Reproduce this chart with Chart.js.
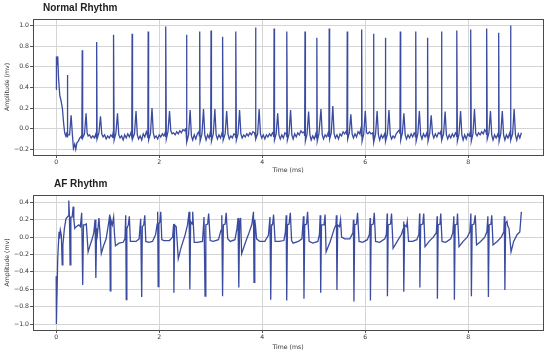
<!DOCTYPE html>
<html lang="en">
<head>
    <meta charset="UTF-8">
    <title>Normal vs AF Rhythm</title>
    <script src="https://cdn.jsdelivr.net/npm/chart.js@4.4.1/dist/chart.umd.min.js"></script>
    <style>
        body { margin: 0; background: #fff; width: 550px; height: 355px; position: relative; overflow: hidden; }
        .panel { position: absolute; left: 0; width: 550px; }
        .title { position: absolute; z-index: 2; font: bold 10px/10px "Liberation Sans", Arial, sans-serif; color: #222; white-space: nowrap; }
    </style>
</head>
<body>

    <div class="panel" style="top:0;height:178px"><canvas id="normalChart" width="550" height="178"></canvas></div>
    <div class="panel" style="top:178px;height:177px"><canvas id="afChart" width="550" height="177"></canvas></div>
    <div class="title" style="left:43px;top:3px">Normal Rhythm</div>
    <div class="title" style="left:54px;top:179px">AF Rhythm</div>

    <script>

        // values, [time, amplitude]
        const normalRhythm = [
            [0.000,0.38],[0.005,0.70],[0.020,0.62],[0.030,0.70],[0.045,0.50],[0.070,0.32],[0.090,0.28],[0.120,0.20],[0.145,0.05],[0.165,-0.04],[0.185,-0.07],[0.200,-0.05],
            [0.210,-0.08],[0.217,0.52],[0.225,-0.06],[0.260,-0.06],[0.290,0.13],[0.315,-0.06],[0.335,-0.19],[0.360,-0.15],[0.380,-0.20],[0.400,-0.14],[0.430,-0.12],[0.460,-0.09],[0.490,-0.07],
            [0.498,-0.10],[0.506,0.76],[0.514,-0.09],[0.550,-0.05],[0.580,0.15],[0.600,-0.04],[0.620,-0.07],[0.650,-0.06],[0.680,-0.09],[0.710,-0.07],[0.740,-0.09],[0.770,-0.05],
            [0.779,-0.09],[0.786,0.84],[0.794,-0.10],[0.830,-0.04],[0.860,0.12],[0.885,-0.05],[0.910,-0.08],[0.940,-0.06],[0.970,-0.10],[1.000,-0.07],[1.030,-0.09],[1.060,-0.06],[1.090,-0.08],[1.105,-0.04],
            [1.110,-0.09],[1.117,0.91],[1.125,-0.11],[1.160,-0.04],[1.190,0.15],[1.215,-0.06],[1.240,-0.09],[1.270,-0.07],[1.300,-0.11],[1.330,-0.06],[1.360,-0.09],[1.390,-0.05],[1.420,-0.08],[1.450,-0.04],
            [1.467,-0.08],[1.474,0.92],[1.482,-0.10],[1.520,-0.05],[1.550,0.17],[1.575,-0.06],[1.600,-0.10],[1.630,-0.07],[1.660,-0.11],[1.690,-0.05],[1.720,-0.08],[1.750,-0.03],[1.770,-0.06],
            [1.779,-0.09],[1.786,0.94],[1.794,-0.11],[1.830,-0.05],[1.860,0.20],[1.885,-0.04],[1.910,-0.09],[1.940,-0.07],[1.970,-0.10],[2.000,-0.06],[2.030,-0.08],[2.060,-0.05],[2.090,-0.07],[2.115,-0.04],
            [2.123,-0.08],[2.130,0.99],[2.138,-0.10],[2.170,-0.03],[2.200,0.17],[2.225,-0.02],[2.250,-0.05],[2.280,-0.04],[2.310,-0.06],[2.340,-0.03],[2.370,-0.05],[2.400,-0.02],[2.430,-0.04],[2.460,-0.01],[2.490,-0.02],[2.515,0.00],
            [2.523,-0.05],[2.530,0.91],[2.538,-0.13],[2.570,-0.06],[2.600,0.18],[2.625,-0.07],[2.650,-0.11],[2.680,-0.06],[2.710,-0.10],[2.740,-0.05],[2.770,-0.03],
            [2.779,-0.07],[2.786,0.94],[2.794,-0.12],[2.830,-0.05],[2.860,0.19],[2.885,-0.06],[2.910,-0.11],[2.940,-0.06],[2.970,-0.09],[2.990,-0.04],
            [2.999,-0.08],[3.006,0.95],[3.014,-0.12],[3.050,-0.05],[3.080,0.19],[3.105,-0.06],[3.130,-0.10],[3.160,-0.06],[3.190,-0.09],[3.220,-0.04],
            [3.227,-0.08],[3.234,0.89],[3.242,-0.11],[3.280,-0.05],[3.310,0.17],[3.335,-0.05],[3.360,-0.10],[3.390,-0.07],[3.420,-0.09],[3.450,-0.05],[3.475,-0.06],
            [3.483,-0.09],[3.490,0.94],[3.498,-0.11],[3.530,-0.05],[3.560,0.18],[3.585,-0.05],[3.610,-0.09],[3.640,-0.06],[3.670,-0.08],[3.700,-0.05],[3.730,-0.07],[3.760,-0.04],[3.790,-0.06],[3.820,-0.03],[3.850,-0.04],
            [3.863,-0.07],[3.870,0.98],[3.878,-0.10],[3.910,-0.05],[3.940,0.19],[3.965,-0.05],[3.990,-0.09],[4.020,-0.06],[4.050,-0.10],[4.080,-0.06],[4.110,-0.08],[4.140,-0.05],[4.170,-0.07],[4.200,-0.04],[4.215,-0.05],
            [4.223,-0.08],[4.230,0.97],[4.238,-0.11],[4.270,-0.05],[4.300,0.15],[4.325,-0.06],[4.350,-0.10],[4.380,-0.06],[4.410,-0.09],[4.440,-0.04],[4.465,-0.05],
            [4.473,-0.08],[4.480,0.94],[4.488,-0.11],[4.520,-0.05],[4.550,0.18],[4.575,-0.06],[4.600,-0.10],[4.630,-0.05],[4.660,-0.08],[4.690,-0.04],[4.720,-0.06],[4.750,-0.02],[4.780,-0.04],[4.815,-0.03],
            [4.823,-0.07],[4.830,0.94],[4.838,-0.12],[4.870,-0.05],[4.900,0.165],[4.925,-0.06],[4.950,-0.11],[4.980,-0.07],[5.010,-0.10],[5.040,-0.05],
            [5.053,-0.09],[5.060,0.88],[5.068,-0.12],[5.100,-0.05],[5.140,0.19],[5.165,-0.06],[5.190,-0.10],[5.220,-0.06],[5.250,-0.08],[5.280,-0.04],
            [5.293,-0.08],[5.300,0.97],[5.308,-0.10],[5.340,-0.04],[5.370,0.22],[5.395,-0.05],[5.420,-0.09],[5.450,-0.06],[5.480,-0.10],[5.510,-0.05],[5.540,-0.07],[5.570,-0.03],[5.600,-0.05],[5.635,-0.02],
            [5.643,-0.06],[5.650,0.94],[5.658,-0.10],[5.690,-0.04],[5.720,0.14],[5.745,-0.05],[5.770,-0.09],[5.800,-0.05],[5.830,-0.08],[5.860,-0.03],[5.890,-0.05],[5.915,0.00],
            [5.923,-0.07],[5.930,0.96],[5.938,-0.12],[5.970,-0.05],[6.000,0.17],[6.025,-0.04],[6.050,-0.05],[6.080,-0.03],[6.110,-0.05],[6.145,-0.04],
            [6.153,-0.08],[6.160,0.92],[6.168,-0.13],[6.200,-0.05],[6.230,0.17],[6.255,-0.06],[6.280,-0.11],[6.310,-0.06],[6.340,-0.09],[6.375,-0.05],
            [6.383,-0.08],[6.390,0.88],[6.398,-0.12],[6.430,-0.05],[6.460,0.18],[6.485,-0.06],[6.510,-0.10],[6.540,-0.07],[6.570,-0.09],[6.600,-0.05],[6.630,-0.03],[6.665,-0.01],
            [6.673,-0.05],[6.680,0.94],[6.688,-0.11],[6.720,-0.04],[6.750,0.15],[6.775,-0.06],[6.800,-0.10],[6.830,-0.06],[6.860,-0.09],[6.890,-0.05],[6.920,-0.08],[6.950,-0.04],[6.965,-0.05],
            [6.973,-0.08],[6.980,0.94],[6.988,-0.12],[7.020,-0.05],[7.050,0.17],[7.075,-0.06],[7.100,-0.10],[7.130,-0.05],[7.160,-0.08],[7.195,-0.04],
            [7.203,-0.08],[7.210,0.88],[7.218,-0.12],[7.250,-0.05],[7.280,0.13],[7.305,-0.05],[7.330,-0.09],[7.360,-0.05],[7.390,-0.08],[7.420,-0.04],[7.450,-0.05],[7.465,-0.03],
            [7.473,-0.07],[7.480,0.94],[7.488,-0.11],[7.520,-0.05],[7.550,0.165],[7.575,-0.06],[7.600,-0.10],[7.630,-0.06],[7.660,-0.09],[7.690,-0.05],[7.720,-0.08],[7.750,-0.04],[7.765,-0.05],
            [7.773,-0.08],[7.780,0.95],[7.788,-0.12],[7.820,-0.05],[7.850,0.17],[7.875,-0.06],[7.900,-0.11],[7.930,-0.06],[7.960,-0.10],[7.990,-0.05],[8.020,-0.07],[8.035,-0.04],
            [8.043,-0.08],[8.050,0.96],[8.058,-0.12],[8.090,-0.05],[8.120,0.19],[8.145,-0.05],[8.170,-0.07],[8.200,-0.04],[8.230,-0.06],[8.260,-0.03],[8.290,-0.05],[8.320,-0.01],[8.345,-0.03],
            [8.353,-0.06],[8.360,0.97],[8.368,-0.10],[8.400,-0.04],[8.430,0.17],[8.455,-0.06],[8.480,-0.11],[8.510,-0.06],[8.540,-0.09],[8.575,-0.05],
            [8.583,-0.08],[8.590,0.93],[8.598,-0.12],[8.630,-0.05],[8.660,0.17],[8.685,-0.06],[8.710,-0.11],[8.740,-0.06],[8.770,-0.09],[8.805,-0.04],
            [8.813,-0.07],[8.820,1.00],[8.828,-0.11],[8.860,-0.05],[8.890,0.19],[8.915,-0.06],[8.940,-0.11],[8.970,-0.05],[9.000,-0.09],[9.030,-0.04]
        ];

        const afRhythm = [
            [0.000,-0.45],[0.004,-1.00],[0.030,-0.25],[0.055,0.06],[0.065,-0.02],[0.080,0.08],[0.100,0.02],[0.117,-0.32],[0.130,-0.09],[0.160,0.10],[0.190,0.21],[0.230,0.24],[0.245,0.42],[0.258,0.23],[0.270,-0.32],[0.285,0.23],[0.310,0.23],[0.330,0.35],[0.342,0.21],[0.360,0.10],[0.390,0.12],[0.440,0.14],[0.470,0.12],[0.495,0.28],
            [0.515,-0.55],[0.530,0.14],[0.560,0.14],[0.585,0.15],[0.620,-0.17],[0.650,-0.11],[0.700,-0.02],[0.730,0.05],[0.755,0.20],
            [0.770,-0.47],[0.785,0.10],[0.800,0.03],[0.830,0.22],[0.850,0.05],[0.876,-0.19],[0.920,-0.10],[0.970,-0.02],[1.020,0.17],[1.040,0.26],
            [1.050,-0.62],[1.062,0.20],[1.090,0.14],[1.115,0.23],[1.130,0.05],[1.150,-0.10],[1.220,-0.07],[1.300,-0.06],[1.335,-0.02],[1.350,0.25],
            [1.360,-0.72],[1.372,0.10],[1.400,0.14],[1.420,0.24],[1.440,-0.05],[1.470,-0.05],[1.550,-0.05],[1.610,-0.02],[1.640,0.21],
            [1.660,-0.69],[1.672,0.12],[1.700,0.14],[1.720,0.25],[1.740,-0.05],[1.800,-0.06],[1.870,-0.05],[1.930,0.03],[1.960,0.15],[1.970,0.29],
            [1.980,-0.57],[1.992,0.15],[2.010,0.17],[2.030,0.29],[2.050,-0.03],[2.090,-0.04],[2.200,-0.04],[2.260,0.00],[2.280,0.15],
            [2.285,-0.64],[2.300,0.14],[2.330,0.12],[2.370,-0.25],[2.420,-0.13],[2.500,0.02],[2.550,0.14],[2.580,0.29],
            [2.595,-0.60],[2.610,0.18],[2.640,0.15],[2.650,0.29],[2.680,-0.06],[2.740,-0.06],[2.840,-0.05],[2.870,0.23],
            [2.890,-0.68],[2.905,0.14],[2.940,0.15],[2.960,0.27],[2.990,-0.04],[3.050,-0.05],[3.150,-0.03],[3.200,0.08],[3.215,0.25],
            [3.230,-0.68],[3.245,0.14],[3.280,0.15],[3.300,0.28],[3.330,-0.02],[3.380,-0.05],[3.470,-0.03],[3.510,0.10],[3.530,0.22],
            [3.545,-0.58],[3.560,0.14],[3.580,0.22],[3.600,-0.19],[3.680,-0.05],[3.750,0.06],[3.800,0.15],[3.830,0.29],
            [3.840,-0.52],[3.855,0.20],[3.870,0.12],[3.890,-0.02],[3.950,-0.05],[4.050,-0.05],[4.120,0.02],[4.150,0.23],
            [4.165,-0.72],[4.180,0.14],[4.200,0.14],[4.220,0.26],[4.250,-0.05],[4.330,-0.05],[4.420,-0.04],[4.450,0.06],[4.465,0.25],
            [4.475,-0.73],[4.490,0.14],[4.520,0.15],[4.545,0.28],[4.570,-0.04],[4.600,-0.07],[4.700,-0.05],[4.770,-0.02],[4.800,0.24],
            [4.810,-0.71],[4.825,0.14],[4.860,0.15],[4.880,0.29],[4.910,-0.05],[4.980,-0.07],[5.080,-0.05],[5.110,0.03],[5.125,0.25],
            [5.135,-0.64],[5.150,0.14],[5.200,0.14],[5.220,0.26],[5.240,-0.17],[5.320,-0.05],[5.400,0.10],[5.430,0.14],[5.440,0.25],
            [5.450,-0.61],[5.465,0.14],[5.500,0.12],[5.520,0.20],[5.540,0.00],[5.600,-0.02],[5.700,-0.02],[5.760,0.05],[5.770,0.20],
            [5.780,-0.74],[5.795,0.14],[5.830,0.15],[5.850,0.28],[5.880,-0.05],[5.950,-0.06],[6.040,-0.03],[6.080,0.03],[6.095,0.22],
            [6.100,-0.73],[6.115,0.14],[6.155,0.15],[6.175,0.28],[6.200,-0.05],[6.280,-0.06],[6.380,-0.02],[6.410,0.03],[6.425,0.27],
            [6.430,-0.68],[6.445,0.14],[6.490,0.15],[6.510,0.27],[6.540,-0.13],[6.620,-0.05],[6.700,0.03],[6.740,0.10],[6.745,0.18],
            [6.750,-0.63],[6.765,0.14],[6.800,0.12],[6.815,0.18],[6.840,-0.05],[6.920,-0.05],[7.000,-0.03],[7.040,0.03],[7.055,0.27],
            [7.060,-0.58],[7.075,0.14],[7.115,0.15],[7.135,0.27],[7.160,-0.11],[7.240,-0.05],[7.320,0.00],[7.380,0.05],[7.395,0.24],
            [7.400,-0.71],[7.415,0.14],[7.450,0.15],[7.465,0.27],[7.490,-0.05],[7.560,-0.06],[7.660,-0.02],[7.700,0.05],[7.720,0.24],
            [7.730,-0.72],[7.745,0.14],[7.780,0.15],[7.790,0.27],[7.820,-0.11],[7.900,-0.05],[7.980,0.00],[8.030,0.06],[8.050,0.27],
            [8.060,-0.68],[8.075,0.14],[8.110,0.15],[8.135,0.25],[8.160,-0.09],[8.240,-0.05],[8.320,0.00],[8.360,0.06],[8.380,0.24],
            [8.390,-0.69],[8.405,0.14],[8.440,0.15],[8.455,0.25],[8.480,-0.09],[8.560,-0.05],[8.640,0.00],[8.690,0.06],[8.700,0.24],
            [8.710,-0.61],[8.725,0.16],[8.750,0.18],[8.765,0.13],[8.790,0.10],[8.830,-0.17],[8.880,-0.05],[8.950,0.03],[9.000,0.06],[9.030,0.29]
        ];

        const timeTicks = [0, 2, 4, 6, 8];
        const normalAmpTicks = [-0.2, 0, 0.2, 0.4, 0.6, 0.8, 1.0];
        const afAmpTicks = [-1.0, -0.8, -0.6, -0.4, -0.2, 0, 0.2, 0.4];

        const smallFont = { family: 'DejaVu Sans', size: 6.2 };
        const lineColor = '#3a4ba0';

        // dark box around the plot area, like matplotlib spines
        const frame = {
            id: 'frame',
            afterDatasetsDraw(chart) {
                const a = chart.chartArea, c = chart.ctx;
                c.save();
                c.strokeStyle = '#4a4a4a';
                c.lineWidth = 1;
                c.strokeRect(Math.round(a.left) + 0.5, Math.round(a.top) + 0.5,
                    Math.round(a.right - a.left), Math.round(a.bottom - a.top));
                c.restore();
            }
        };

        function fmt(v, digits) {
            return v.toFixed(digits).replace('-', '\u2212');
        }

        function createChart(id, points, yMin, yMax, yTicks, padTop, xHeight) {
            const ctx = document.getElementById(id).getContext('2d');
            return new Chart(ctx, {
                type: 'line',
                data: {
                    datasets: [{
                        data: points.map(p => ({ x: p[0], y: p[1] })),
                        borderColor: lineColor,
                        borderWidth: 1.3,
                        pointRadius: 0,
                        tension: 0
                    }]
                },
                options: {
                    responsive: false,
                    animation: false,
                    layout: { padding: { top: padTop, right: 7, left: 0, bottom: 0 } },
                    plugins: { legend: { display: false }, tooltip: { enabled: false } },
                    scales: {
                        x: {
                            type: 'linear',
                            min: -0.45,
                            max: 9.45,
                            afterBuildTicks: s => { s.ticks = timeTicks.map(v => ({ value: v })); },
                            afterFit: s => { s.height = xHeight; },
                            ticks: { font: smallFont, color: '#333', padding: 1, maxRotation: 0, callback: v => fmt(v, 0) },
                            grid: { color: '#d4d4d4', lineWidth: 1, tickLength: 3, tickColor: '#555' },
                            border: { display: false },
                            title: { display: true, text: 'Time (ms)', font: smallFont, color: '#333', padding: { top: 0, bottom: 4 } }
                        },
                        y: {
                            min: yMin,
                            max: yMax,
                            afterBuildTicks: s => { s.ticks = yTicks.map(v => ({ value: v })); },
                            afterFit: s => { s.width = 33; },
                            ticks: { font: smallFont, color: '#333', padding: 1, callback: v => fmt(v, 1) },
                            grid: { color: '#d4d4d4', lineWidth: 1, tickLength: 3, tickColor: '#555' },
                            border: { display: false },
                            title: { display: true, text: 'Amplitude (mv)', font: smallFont, color: '#333', padding: { top: 4, bottom: 0 } }
                        }
                    }
                },
                plugins: [frame]
            });
        }

        createChart('normalChart', normalRhythm, -0.255, 1.062, normalAmpTicks, 19, 23);
        createChart('afChart', afRhythm, -1.069, 0.484, afAmpTicks, 17, 25);

    </script>

</body>
</html>
